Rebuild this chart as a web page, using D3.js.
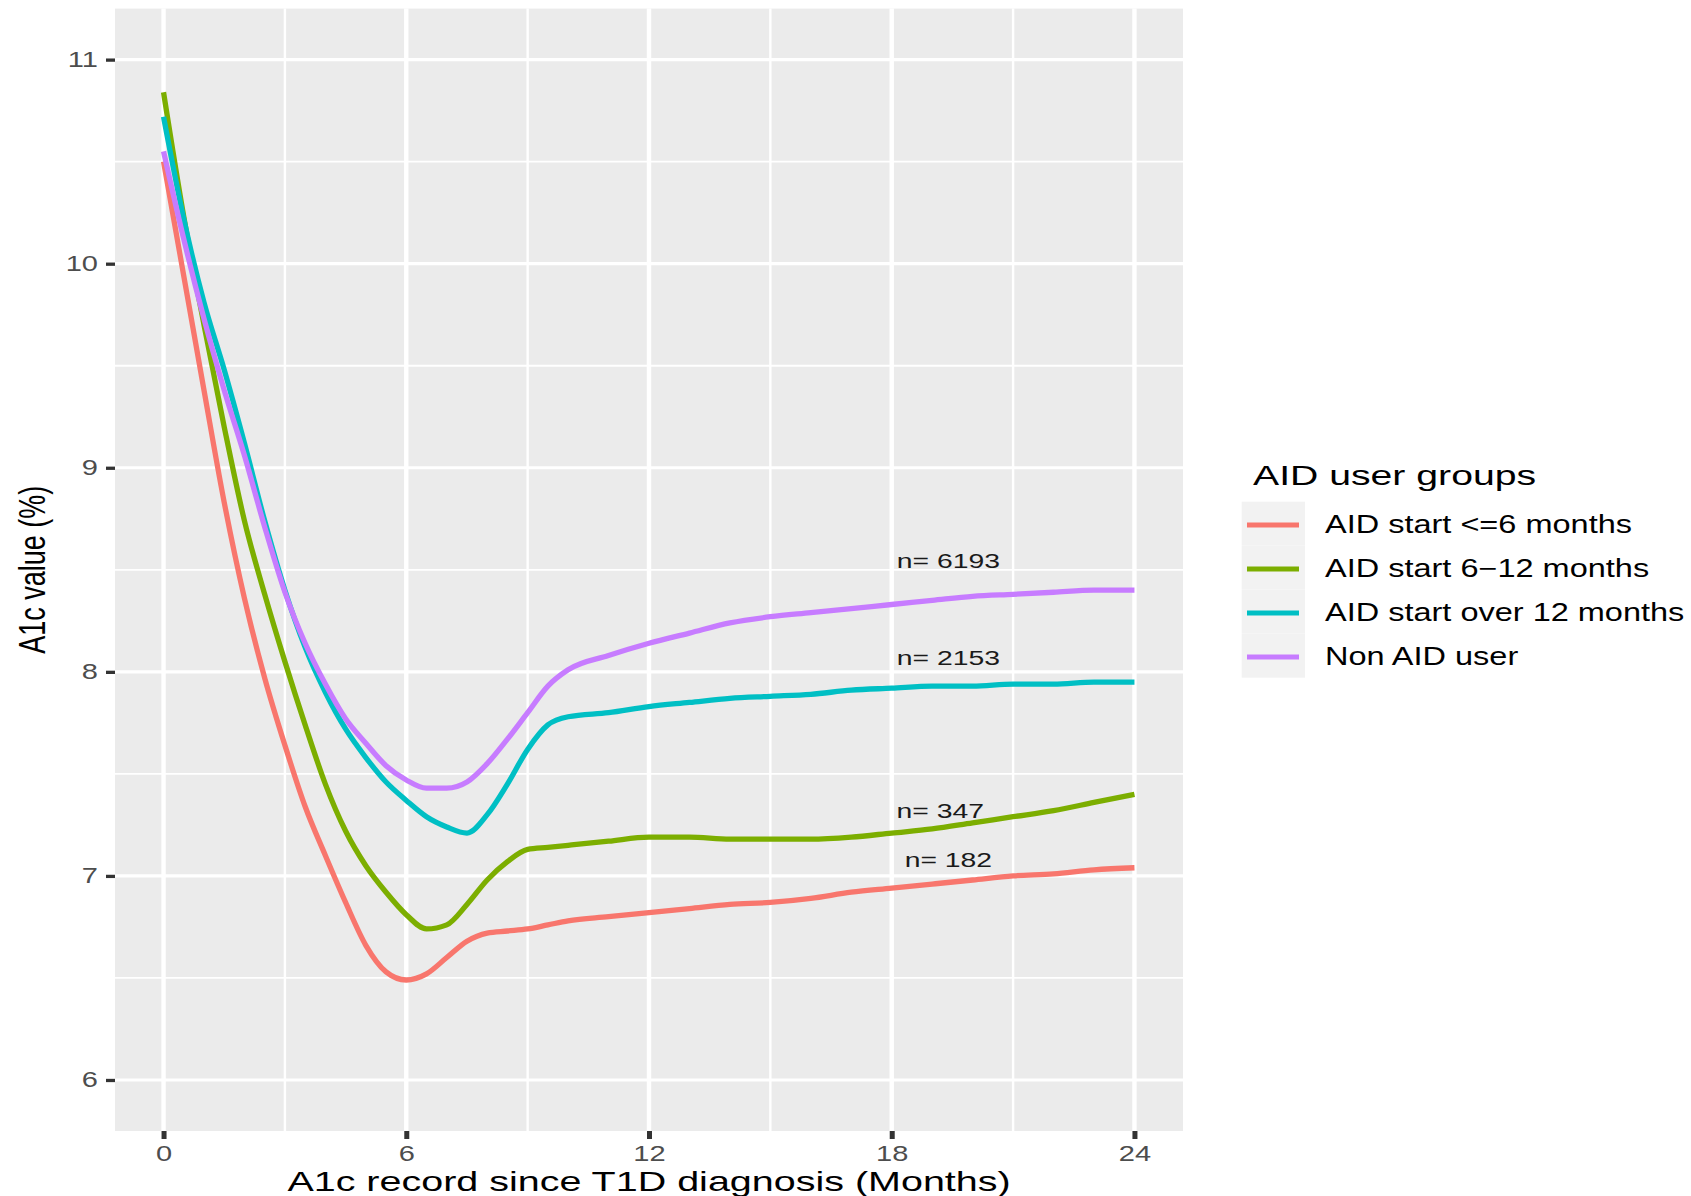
<!DOCTYPE html>
<html>
<head>
<meta charset="utf-8">
<script src="https://cdn.jsdelivr.net/npm/d3@7"></script>
<style>
  body { margin: 0; background: #fff; }
  svg { display: block; font-family: "Liberation Sans", Arial, sans-serif; }
</style>
</head>
<body>
<svg id="chart"></svg>
<script>
// months since diagnosis
const months = [0, 0.5, 1, 1.5, 2, 2.5, 3, 3.5, 4, 4.5, 5, 5.5, 6, 6.5, 7, 7.5, 8, 8.5, 9, 9.5, 10,
  11, 12, 13, 14, 15, 16, 17, 18, 19, 20, 21, 22, 23, 24];

const aidUpTo6 = [10.50, 9.94, 9.38, 8.83, 8.36, 7.97, 7.64, 7.34, 7.10, 6.87, 6.66, 6.53, 6.49, 6.52, 6.60, 6.68, 6.72, 6.73, 6.74, 6.76, 6.78,
  6.80, 6.82, 6.84, 6.86, 6.87, 6.89, 6.92, 6.94, 6.96, 6.98, 7.00, 7.01, 7.03, 7.04];
const aid6to12 = [10.84, 10.23, 9.70, 9.20, 8.74, 8.38, 8.05, 7.74, 7.45, 7.22, 7.05, 6.92, 6.81, 6.74, 6.76, 6.86, 6.98, 7.07, 7.13, 7.14, 7.15,
  7.17, 7.19, 7.19, 7.18, 7.18, 7.18, 7.19, 7.21, 7.23, 7.26, 7.29, 7.32, 7.36, 7.40];
const aidOver12 = [10.72, 10.22, 9.81, 9.48, 9.12, 8.74, 8.40, 8.12, 7.90, 7.72, 7.58, 7.46, 7.37, 7.29, 7.24, 7.21, 7.30, 7.45, 7.62, 7.74, 7.78,
  7.80, 7.83, 7.85, 7.87, 7.88, 7.89, 7.91, 7.92, 7.93, 7.93, 7.94, 7.94, 7.95, 7.95];
const nonAid = [10.55, 10.12, 9.73, 9.38, 9.06, 8.71, 8.39, 8.14, 7.94, 7.77, 7.65, 7.54, 7.47, 7.43, 7.43, 7.46, 7.55, 7.67, 7.80, 7.93, 8.01,
  8.08, 8.14, 8.19, 8.24, 8.27, 8.29, 8.31, 8.33, 8.35, 8.37, 8.38, 8.39, 8.40, 8.40];

const groupNames = ['AID start <=6 months', 'AID start 6\u221212 months', 'AID start over 12 months', 'Non AID user'];
const groupValues = [aidUpTo6, aid6to12, aidOver12, nonAid];
const colors = ['#F8766D', '#7CAE00', '#00BFC4', '#C77CFF'];

const xTicks = [0, 6, 12, 18, 24];
const xMinor = [3, 9, 15, 21];
const yTicks = [6, 7, 8, 9, 10, 11];
const yMinor = [6.5, 7.5, 8.5, 9.5, 10.5];

const noteText = ['n= 6193', 'n= 2153', 'n= 347', 'n= 182'];
const noteX = [19.4, 19.4, 19.2, 19.4];
const noteY = [8.545, 8.07, 7.32, 7.08];

const width = 1691, height = 1196;
const panel = { left: 115, right: 1183, top: 8.6, bottom: 1131 };
const K = 1.35; // horizontal text stretch of the original

const svg = d3.select('#chart').attr('width', width).attr('height', height);

const x = d3.scaleLinear().domain([-1.2, 25.2]).range([panel.left, panel.right]);
const y = d3.scaleLinear().domain([5.75, 11.25]).range([panel.bottom, panel.top]);

// panel background
svg.append('rect')
  .attr('x', panel.left).attr('y', panel.top)
  .attr('width', panel.right - panel.left).attr('height', panel.bottom - panel.top)
  .attr('fill', '#EBEBEB');

const grid = svg.append('g');
grid.selectAll('.ymin').data(yMinor).join('line')
  .attr('x1', panel.left).attr('x2', panel.right)
  .attr('y1', d => y(d)).attr('y2', d => y(d))
  .attr('stroke', '#fff').attr('stroke-width', 1.8);
grid.selectAll('.xmin').data(xMinor).join('line')
  .attr('y1', panel.top).attr('y2', panel.bottom)
  .attr('x1', d => x(d)).attr('x2', d => x(d))
  .attr('stroke', '#fff').attr('stroke-width', 2.4);
grid.selectAll('.ymaj').data(yTicks).join('line')
  .attr('x1', panel.left).attr('x2', panel.right)
  .attr('y1', d => y(d)).attr('y2', d => y(d))
  .attr('stroke', '#fff').attr('stroke-width', 3.2);
grid.selectAll('.xmaj').data(xTicks).join('line')
  .attr('y1', panel.top).attr('y2', panel.bottom)
  .attr('x1', d => x(d)).attr('x2', d => x(d))
  .attr('stroke', '#fff').attr('stroke-width', 4.4);

// lines
const line = d3.line()
  .x(d => x(d[0]))
  .y(d => y(d[1]))
  .curve(d3.curveMonotoneX);

groupValues.forEach((vals, i) => {
  svg.append('path')
    .datum(months.map((m, j) => [m, vals[j]]))
    .attr('fill', 'none')
    .attr('stroke', colors[i])
    .attr('stroke-width', 5.3)
    .attr('stroke-linejoin', 'round')
    .attr('d', line);
});

// n= labels
svg.append('g').selectAll('text').data(noteText).join('text')
  .attr('transform', (d, i) => `translate(${x(noteX[i])},${y(noteY[i])}) scale(${K},1)`)
  .attr('text-anchor', 'middle')
  .attr('dy', '0.35em')
  .attr('font-size', 21)
  .attr('fill', '#1a1a1a')
  .text(d => d);

// axes
const yAxis = svg.append('g')
  .attr('transform', `translate(${panel.left},0)`)
  .call(d3.axisLeft(y).tickValues(yTicks).tickSize(9).tickPadding(8).tickFormat(d3.format('d')));
const xAxis = svg.append('g')
  .attr('transform', `translate(0,${panel.bottom})`)
  .call(d3.axisBottom(x).tickValues(xTicks).tickSize(8).tickPadding(6.4).tickFormat(d3.format('d')));

[yAxis, xAxis].forEach(ax => {
  ax.select('.domain').remove();
  ax.selectAll('.tick line').attr('stroke', '#333333');
  ax.selectAll('.tick text')
    .attr('fill', '#4D4D4D')
    .attr('font-size', 21.5)
    .attr('font-family', '"Liberation Sans", Arial, sans-serif');
});
yAxis.selectAll('.tick line').attr('stroke-width', 3.3);
xAxis.selectAll('.tick line').attr('stroke-width', 5);
yAxis.selectAll('.tick text').attr('x', -17 / K).attr('transform', `scale(${K},1)`);
xAxis.selectAll('.tick text').attr('transform', `scale(${K},1)`);

// axis titles
svg.append('text')
  .attr('transform', `translate(${(panel.left + panel.right) / 2},1190.7) scale(1.41,1)`)
  .attr('text-anchor', 'middle')
  .attr('font-size', 28)
  .attr('fill', '#000')
  .text('A1c record since T1D diagnosis (Months)');

svg.append('text')
  .attr('transform', `translate(45,${(panel.top + panel.bottom) / 2}) rotate(-90) scale(1,${K})`)
  .attr('text-anchor', 'middle')
  .attr('font-size', 27)
  .attr('fill', '#000')
  .text('A1c value (%)');

// legend
const legend = svg.append('g').attr('transform', 'translate(1241.7,501.7)');
legend.append('text')
  .attr('transform', 'translate(11.3,-16.7) scale(1.4,1)')
  .attr('font-size', 28)
  .attr('fill', '#000')
  .text('AID user groups');

const items = legend.selectAll('.item').data(groupNames).join('g')
  .attr('class', 'item')
  .attr('transform', (d, i) => `translate(0,${i * 44})`);
items.append('rect')
  .attr('width', 63.3).attr('height', 44)
  .attr('fill', '#F2F2F2');
items.append('line')
  .attr('x1', 5.3).attr('x2', 57.3)
  .attr('y1', 23.3).attr('y2', 23.3)
  .attr('stroke', (d, i) => colors[i])
  .attr('stroke-width', 5.2);
items.append('text')
  .attr('transform', 'translate(83.3,31) scale(1.3,1)')
  .attr('font-size', 25)
  .attr('fill', '#000')
  .text(d => d);
</script>
</body>
</html>
